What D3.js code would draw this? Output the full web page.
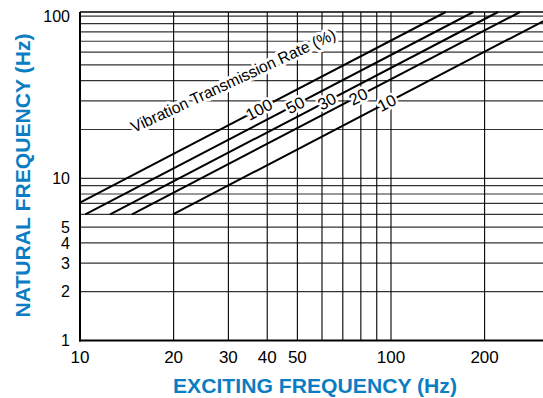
<!DOCTYPE html>
<html>
<head>
<meta charset="utf-8">
<script src="https://cdn.jsdelivr.net/npm/d3@7"></script>
<style>
  html, body { margin: 0; padding: 0; background: #fff; }
  svg { display: block; }
</style>
</head>
<body>
<svg id="chart" width="543" height="398"></svg>
<script>
// ---- data ----
const rates = [100, 50, 30, 20, 10];               // vibration transmission rate (%)
const lineStartX = [10, 10.4, 12.5, 14.7, 19.9];    // exciting freq (Hz) at line start
const lineStartY = [7.07, 6, 6, 6, 6];              // natural freq (Hz) at line start
const lineEndX = [150, 184, 221, 260, 310];         // exciting freq at line end
const lineEndY = [106, 106, 106, 106, 93.5];        // natural freq at line end
const labelX = [37.6, 49.2, 62.2, 78.4, 96.9];      // exciting freq where rate label sits

const xGrid = [20, 30, 40, 50, 60, 70, 80, 90, 100, 200];
const yGrid = [2, 3, 4, 5, 6, 7, 8, 9, 10, 20, 30, 40, 50, 60, 70, 80, 90, 100, 106];
const xTickLabels = [10, 20, 30, 40, 50, 100, 200];
const yTickLabels = [1, 2, 3, 4, 5, 10, 100];

const xTitle = "EXCITING FREQUENCY (Hz)";
const yTitle = "NATURAL FREQUENCY (Hz)";
const curveTitle = "Vibration Transmission Rate (%)";

// ---- layout ----
const svg = d3.select("#chart");
const pLeft = 80, pRight = 543.8, pTop = 12, pBottom = 340.5;
const x = d3.scaleLog().domain([10, 310]).range([pLeft, pRight]);
const y = d3.scaleLog().domain([1, 106]).range([pBottom, pTop]);
const font = "'Liberation Sans', Arial, Helvetica, sans-serif";
const blue = "#0a7dc3";

const g = svg.append("g");
g.append("defs").append("clipPath").attr("id", "clip")
  .append("rect").attr("x", pLeft).attr("y", pTop - 1).attr("width", 543 - pLeft).attr("height", pBottom - pTop + 1);

// grid
g.append("g").selectAll("line").data(yGrid).join("line")
  .attr("x1", pLeft).attr("x2", 543)
  .attr("y1", d => y(d)).attr("y2", d => y(d))
  .attr("stroke", d => d === 106 ? "#000" : "#333")
  .attr("stroke-width", d => d === 106 ? 1.6 : 1.2);
g.append("g").selectAll("line").data(xGrid).join("line")
  .attr("x1", d => x(d)).attr("x2", d => x(d))
  .attr("y1", pTop).attr("y2", pBottom)
  .attr("stroke", "#000").attr("stroke-width", 1.1);

// frame
g.append("line").attr("x1", pLeft).attr("x2", pLeft).attr("y1", pTop).attr("y2", pBottom + 1)
  .attr("stroke", "#000").attr("stroke-width", 2);
g.append("line").attr("x1", pLeft - 1).attr("x2", 543).attr("y1", pBottom).attr("y2", pBottom)
  .attr("stroke", "#000").attr("stroke-width", 2);

// curves
const lines = g.append("g").attr("clip-path", "url(#clip)");
rates.forEach((r, i) => {
  lines.append("line")
    .attr("x1", x(lineStartX[i])).attr("y1", y(lineStartY[i]))
    .attr("x2", x(lineEndX[i])).attr("y2", y(lineEndY[i]))
    .attr("stroke", "#000").attr("stroke-width", 2);
});

// rate labels on curves
rates.forEach((r, i) => {
  const x0 = x(lineStartX[i]), y0 = y(lineStartY[i]);
  const x1 = x(lineEndX[i]), y1 = y(lineEndY[i]);
  const ang = Math.atan2(y1 - y0, x1 - x0) * 180 / Math.PI;
  const lx = x(labelX[i]);
  const t = (lx - x0) / (x1 - x0);
  const ly = y0 + t * (y1 - y0);
  g.append("text")
    .attr("transform", `translate(${lx},${ly}) rotate(${ang})`)
    .attr("text-anchor", "middle").attr("dy", "0.36em")
    .attr("font-family", font).attr("font-size", 16.5)
    .attr("fill", "#000")
    .attr("stroke", "#fff").attr("stroke-width", 5).attr("stroke-linejoin", "round")
    .attr("paint-order", "stroke")
    .text(r);
});

// curve family title
g.append("text")
  .attr("transform", `translate(134,133) rotate(-25)`)
  .attr("font-family", font).attr("font-size", 16)
  .attr("textLength", 224).attr("lengthAdjust", "spacingAndGlyphs")
  .attr("fill", "#000")
  .attr("stroke", "#fff").attr("stroke-width", 6).attr("stroke-linejoin", "round")
  .attr("paint-order", "stroke")
  .text(curveTitle);

// tick labels
g.append("g").selectAll("text").data(xTickLabels).join("text")
  .attr("x", d => x(d)).attr("y", 363)
  .attr("text-anchor", "middle")
  .attr("font-family", font).attr("font-size", 17)
  .text(d => d);
g.append("g").selectAll("text").data(yTickLabels).join("text")
  .attr("x", 70).attr("y", d => y(d)).attr("dy", "0.36em")
  .attr("text-anchor", "end")
  .attr("font-family", font).attr("font-size", 16)
  .text(d => d);

// axis titles
g.append("text")
  .attr("x", 315).attr("y", 393)
  .attr("text-anchor", "middle")
  .attr("font-family", font).attr("font-size", 20).attr("font-weight", "bold")
  .attr("textLength", 284).attr("lengthAdjust", "spacingAndGlyphs")
  .attr("fill", blue)
  .text(xTitle);
g.append("text")
  .attr("transform", "translate(30,175.5) rotate(-90)")
  .attr("text-anchor", "middle")
  .attr("font-family", font).attr("font-size", 20).attr("font-weight", "bold")
  .attr("textLength", 284).attr("lengthAdjust", "spacingAndGlyphs")
  .attr("fill", blue)
  .text(yTitle);
</script>
</body>
</html>
